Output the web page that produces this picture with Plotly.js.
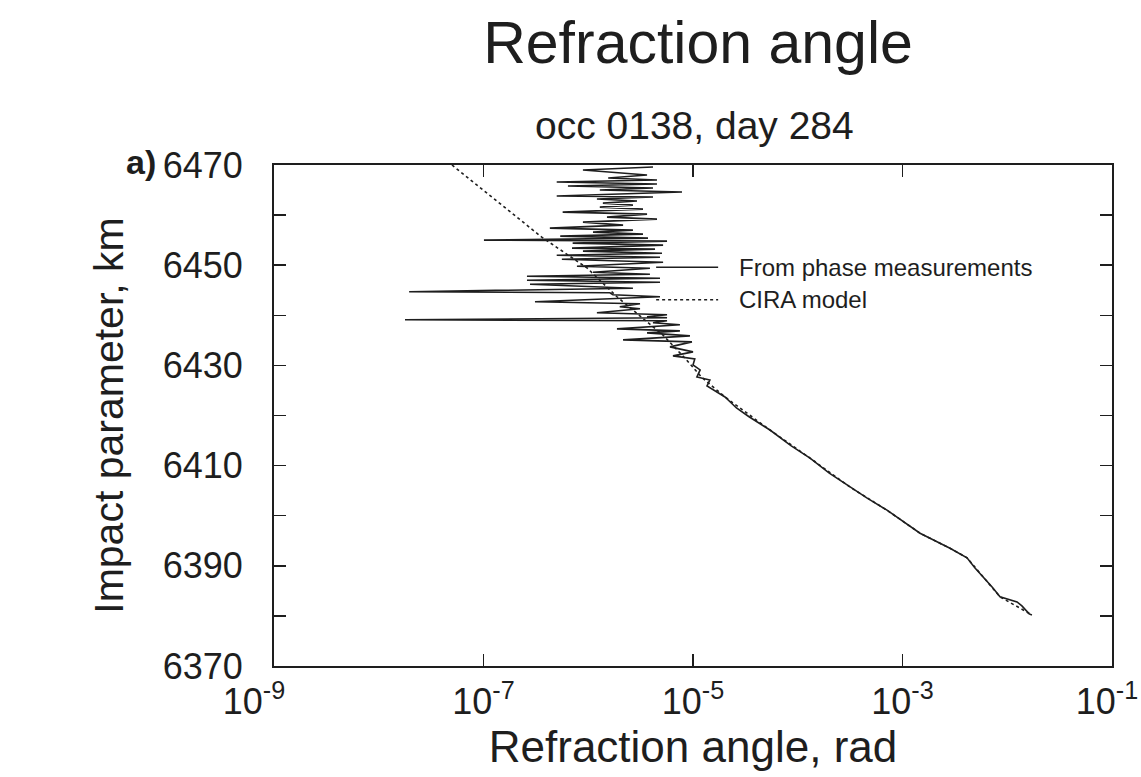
<!DOCTYPE html>
<html>
<head>
<meta charset="utf-8">
<script src="https://cdn.plot.ly/plotly-3.0.1.min.js"></script>
<style>
  html, body { margin: 0; padding: 0; background: #fff; }
  #chart { width: 1141px; height: 777px; }
</style>
</head>
<body>
<div id="chart"></div>
<script>
// Measured refraction angle profile (rad) versus impact parameter (km)
const measuredAlt = [
  6469.6, 6469.0, 6468.0, 6467.4, 6467.0, 6466.6, 6466.2, 6465.8, 6465.4, 6465.0,
  6464.6, 6463.8, 6463.6, 6463.2, 6462.8, 6462.4, 6462.0, 6461.6, 6461.2, 6460.6,
  6460.2, 6459.6, 6459.2, 6458.6, 6458.0, 6457.4, 6457.0, 6456.6, 6456.2, 6455.8,
  6455.4, 6455.0, 6454.8, 6454.4, 6454.0, 6453.4, 6453.2, 6452.8, 6452.4, 6452.0,
  6451.6, 6451.2, 6450.6, 6449.8, 6449.4, 6448.6, 6448.2, 6447.8, 6447.4, 6447.0,
  6446.6, 6446.2, 6445.4, 6444.7, 6444.5, 6444.1, 6443.7, 6442.7, 6442.3, 6441.7,
  6441.3, 6440.5, 6440.1, 6439.7, 6439.5, 6439.1, 6438.9, 6438.5, 6438.1, 6437.3,
  6436.9, 6436.5, 6435.9, 6435.1, 6434.7, 6433.7, 6432.7, 6431.9, 6431.3, 6430.1,
  6429.1, 6427.7, 6427.1, 6425.9, 6423.7, 6421.5, 6419.8, 6417.1, 6414.0, 6411.5,
  6408.5, 6405.7, 6403.5, 6401.1, 6398.8, 6396.5, 6393.5, 6391.6, 6389.6, 6387.8,
  6385.7, 6383.8, 6383.2, 6382.8, 6382.0, 6381.3, 6380.9, 6380.4, 6380.2
];
const measuredAngle = [
  4.15e-6, 8.9e-7, 3.64e-6, 1.55e-6, 4.53e-6, 5.0e-7, 4.53e-6, 6.4e-7, 4.15e-6, 1.29e-6,
  7.85e-6, 5.0e-7, 4.15e-6, 1.21e-6, 2.92e-6, 1.38e-6, 2.67e-6, 1.29e-6, 3.33e-6, 5.7e-7,
  3.64e-6, 1.51e-6, 4.53e-6, 8.9e-7, 2.15e-6, 4.3e-7, 2.67e-6, 1.11e-6, 3.33e-6, 5.4e-7,
  3.72e-6, 1.01e-7, 5.65e-6, 7.1e-7, 5.18e-6, 7.0e-7, 4.34e-6, 8.9e-7, 5.06e-6, 5.0e-7,
  4.84e-6, 5.6e-7, 5.18e-6, 7.8e-7, 3.88e-6, 1.11e-6, 3.88e-6, 2.6e-7, 4.84e-6, 2.6e-7,
  4.84e-6, 2.78e-7, 2.67e-6, 1.95e-8, 1.61e-6, 1.72e-6, 4.84e-6, 3.1e-7, 3.12e-6, 2.0e-6,
  3.12e-6, 1.21e-6, 5.65e-6, 3.64e-6, 5.65e-6, 1.78e-8, 5.65e-6, 4.15e-6, 7.5e-6, 1.88e-6,
  7.5e-6, 3.64e-6, 9.35e-6, 2.15e-6, 9.77e-6, 6.03e-6, 1.0e-5, 6.44e-6, 1.04e-5, 1.0e-5,
  1.17e-5, 1.09e-5, 1.45e-5, 1.36e-5, 2.02e-5, 2.6e-5, 3.4e-5, 5.43e-5, 8.6e-5, 1.31e-4,
  2.0e-4, 3.16e-4, 4.6e-4, 7.11e-4, 1.02e-3, 1.47e-3, 2.84e-3, 4.13e-3, 4.9e-3, 5.87e-3,
  7.2e-3, 8.53e-3, 1.08e-2, 1.24e-2, 1.38e-2, 1.48e-2, 1.56e-2, 1.62e-2, 1.72e-2
];

// CIRA model profile
const ciraAlt = [6470.0, 6462.0, 6455.6, 6449.4, 6443.7, 6436.0, 6431.3, 6427.7, 6423.7, 6417.1,
  6411.5, 6405.7, 6401.1, 6396.5, 6393.5, 6391.6, 6387.8, 6383.8, 6380.2];
const ciraAngle = [5.0e-8, 1.5e-7, 3.6e-7, 9.8e-7, 1.88e-6, 5.2e-6, 8.5e-6, 1.2e-5, 2.02e-5, 5.43e-5,
  1.31e-4, 3.16e-4, 7.11e-4, 1.47e-3, 2.84e-3, 4.13e-3, 5.87e-3, 8.53e-3, 1.72e-2];

const seriesNames = ["From phase measurements", "CIRA model"];

const yTickVals = [6370, 6380, 6390, 6400, 6410, 6420, 6430, 6440, 6450, 6460, 6470];
const yTickText = ["6370", "", "6390", "", "6410", "", "6430", "", "6450", "", "6470"];
const xTickVals = [1e-9, 1e-7, 1e-5, 1e-3, 1e-1];
const xTickText = ["10<sup>-9</sup>&nbsp;&nbsp;&nbsp;&nbsp;", "10<sup>-7</sup>", "10<sup>-5</sup>",
  "10<sup>-3</sup>", "10<sup>-1</sup>&nbsp;"];

const ink = "#1e1e1e";
const font = "'Liberation Sans', Arial, Helvetica, sans-serif";

const traces = [
  {
    x: ciraAngle, y: ciraAlt, type: "scatter", mode: "lines", name: seriesNames[1],
    line: { color: ink, width: 1.6, dash: "dot" }, showlegend: false
  },
  {
    x: measuredAngle, y: measuredAlt, type: "scatter", mode: "lines", name: seriesNames[0],
    line: { color: ink, width: 1.6 }, showlegend: false
  }
];

// Key entries drawn beside the curves
const keyX0 = 0.456, keyX1 = 0.530, keyTextX = 0.5525;
const keyY = [0.796, 0.731];

const layout = {
  width: 1141, height: 777,
  margin: { l: 274, r: 29, t: 165, b: 111 },
  paper_bgcolor: "#fff", plot_bgcolor: "#fff",
  font: { family: font, color: ink },
  title: {
    text: "Refraction angle",
    font: { family: font, size: 59, color: ink },
    x: 698 / 1141, xanchor: "center", xref: "container",
    y: 1 - 42 / 777, yanchor: "middle", yref: "container"
  },
  xaxis: {
    type: "log", range: [-9, -1],
    tickmode: "array", tickvals: xTickVals, ticktext: xTickText,
    ticks: "inside", ticklen: 12, tickwidth: 1.5, tickcolor: ink,
    showline: true, linecolor: ink, linewidth: 2, mirror: "ticks",
    showgrid: false, zeroline: false,
    tickfont: { family: font, size: 36, color: ink },
    ticklabelstandoff: 3, ticklabeloverflow: "allow",
    title: { text: "Refraction angle, rad", font: { family: font, size: 44, color: ink }, standoff: 2 }
  },
  yaxis: {
    range: [6370, 6470],
    tickmode: "array", tickvals: yTickVals, ticktext: yTickText,
    ticks: "inside", ticklen: 12, tickwidth: 1.5, tickcolor: ink,
    showline: true, linecolor: ink, linewidth: 2, mirror: "ticks",
    showgrid: false, zeroline: false,
    tickfont: { family: font, size: 36, color: ink },
    ticklabelstandoff: 22, ticklabeloverflow: "allow",
    title: { text: "Impact parameter, km", font: { family: font, size: 41, color: ink }, standoff: 26 }
  },
  shapes: [
    { type: "line", xref: "paper", yref: "paper", x0: keyX0, x1: keyX1, y0: keyY[0], y1: keyY[0],
      line: { color: ink, width: 1.5 } },
    { type: "line", xref: "paper", yref: "paper", x0: keyX0, x1: keyX1, y0: keyY[1], y1: keyY[1],
      line: { color: ink, width: 1.6, dash: "dot" } }
  ],
  annotations: [
    { text: seriesNames[0], xref: "paper", yref: "paper", x: keyTextX, y: keyY[0],
      xanchor: "left", yanchor: "middle", showarrow: false, font: { family: font, size: 24, color: ink } },
    { text: seriesNames[1], xref: "paper", yref: "paper", x: keyTextX, y: keyY[1],
      xanchor: "left", yanchor: "middle", showarrow: false, font: { family: font, size: 24, color: ink } },
    { text: "occ 0138, day 284", xref: "paper", yref: "paper", x: 0.502, y: 1.078,
      xanchor: "center", yanchor: "middle", showarrow: false, font: { family: font, size: 39, color: ink } },
    { text: "<b>a)</b>", xref: "paper", yref: "paper", x: -0.159, y: 1.006,
      xanchor: "center", yanchor: "middle", showarrow: false, font: { family: font, size: 34, color: ink } }
  ]
};

Plotly.newPlot("chart", traces, layout, { displayModeBar: false, staticPlot: true });
</script>
</body>
</html>
